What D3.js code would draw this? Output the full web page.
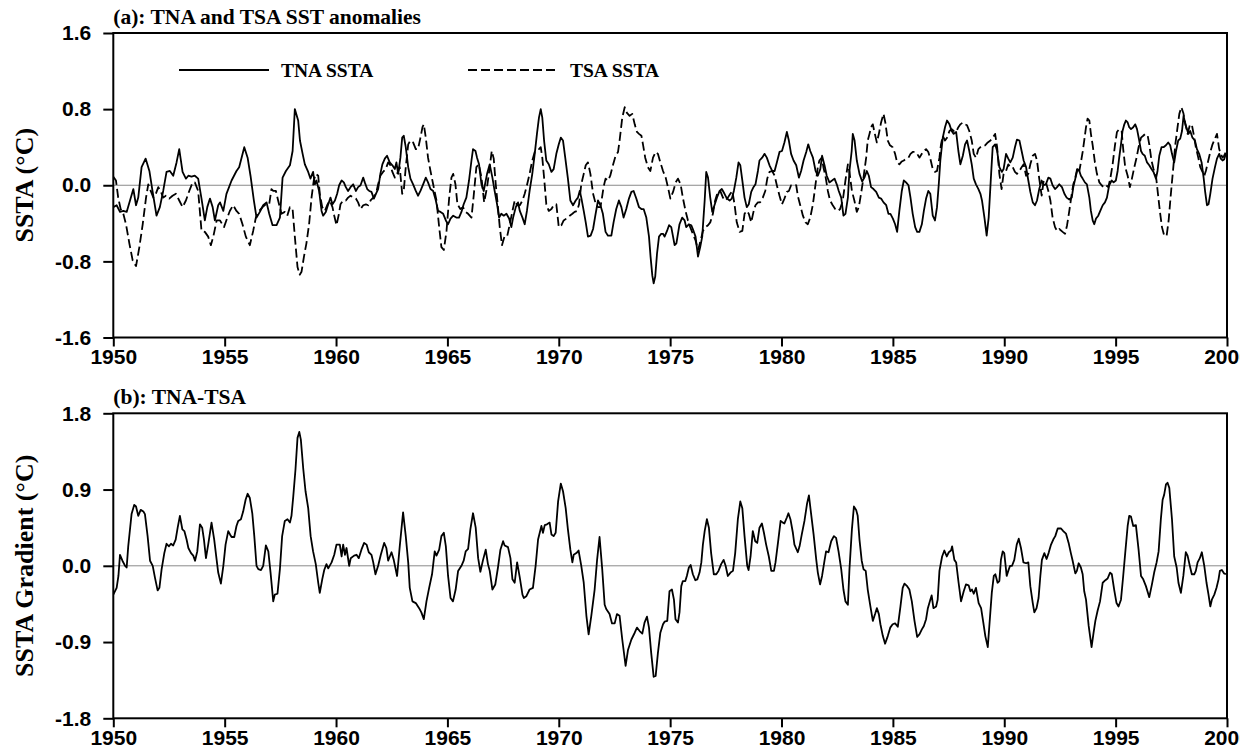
<!DOCTYPE html>
<html>
<head>
<meta charset="utf-8">
<script src="https://cdn.jsdelivr.net/npm/d3@7"></script>
<style>
  html, body { margin: 0; padding: 0; background: #fff; }
  svg { display: block; }
</style>
</head>
<body>
<svg id="chart" width="1250" height="754"></svg>
<script>
// Axis ticks
const yearTicks = [1950, 1955, 1960, 1965, 1970, 1975, 1980, 1985, 1990, 1995, 2000];
const sstaTicks = [-1.6, -0.8, 0.0, 0.8, 1.6];
const gradientTicks = [-1.8, -0.9, 0.0, 0.9, 1.8];

// Tropical North Atlantic SST anomaly, [year, °C]
const tnaSsta = [[1950.00,-0.23],[1950.15,-0.21],[1950.30,-0.28],[1950.45,-0.27],[1950.60,-0.28],[1950.75,-0.16],[1950.90,-0.04],[1951.02,-0.21],[1951.12,-0.13],[1951.27,0.19],[1951.45,0.28],[1951.62,0.15],[1951.76,-0.06],[1951.94,-0.32],[1952.09,-0.23],[1952.24,-0.06],[1952.39,0.14],[1952.54,0.15],[1952.69,0.10],[1952.84,0.24],[1952.96,0.38],[1953.11,0.14],[1953.26,0.07],[1953.37,0.10],[1953.51,0.09],[1953.66,0.10],[1953.81,0.07],[1953.96,-0.14],[1954.11,-0.37],[1954.22,-0.23],[1954.34,-0.14],[1954.46,-0.23],[1954.56,-0.37],[1954.71,-0.21],[1954.79,-0.18],[1954.94,-0.27],[1955.08,-0.09],[1955.31,0.05],[1955.53,0.15],[1955.65,0.19],[1955.76,0.29],[1955.88,0.40],[1956.03,0.29],[1956.16,0.10],[1956.31,-0.16],[1956.43,-0.34],[1956.58,-0.28],[1956.73,-0.21],[1956.88,-0.18],[1957.00,-0.30],[1957.15,-0.42],[1957.33,-0.42],[1957.48,-0.34],[1957.60,0.08],[1957.75,0.15],[1957.93,0.21],[1958.05,0.36],[1958.15,0.80],[1958.30,0.68],[1958.38,0.47],[1958.50,0.33],[1958.60,0.22],[1958.75,0.14],[1958.85,0.07],[1958.97,0.14],[1959.05,0.01],[1959.12,0.05],[1959.24,-0.06],[1959.35,-0.27],[1959.42,-0.32],[1959.54,-0.28],[1959.65,-0.20],[1959.75,-0.13],[1959.84,-0.20],[1959.95,-0.16],[1960.05,-0.09],[1960.14,0.00],[1960.25,0.05],[1960.35,0.03],[1960.44,-0.02],[1960.54,-0.06],[1960.65,-0.02],[1960.77,0.01],[1960.89,-0.06],[1960.99,-0.02],[1961.10,0.00],[1961.22,0.08],[1961.29,0.03],[1961.40,-0.04],[1961.49,-0.06],[1961.59,-0.07],[1961.70,-0.14],[1961.79,-0.09],[1961.89,-0.04],[1961.99,0.12],[1962.08,0.22],[1962.19,0.28],[1962.29,0.31],[1962.41,0.24],[1962.53,0.21],[1962.64,0.17],[1962.71,0.24],[1962.79,0.12],[1962.89,0.29],[1962.97,0.50],[1963.04,0.52],[1963.13,0.40],[1963.24,0.19],[1963.34,0.07],[1963.46,0.01],[1963.58,-0.06],[1963.68,-0.11],[1963.79,-0.06],[1963.91,0.01],[1964.03,0.08],[1964.13,0.03],[1964.24,-0.04],[1964.36,-0.06],[1964.48,-0.16],[1964.58,-0.27],[1964.69,-0.28],[1964.81,-0.30],[1964.93,-0.37],[1965.03,-0.41],[1965.14,-0.35],[1965.26,-0.32],[1965.40,-0.34],[1965.52,-0.34],[1965.63,-0.28],[1965.73,-0.20],[1965.85,-0.13],[1965.97,0.05],[1966.08,0.26],[1966.15,0.38],[1966.26,0.36],[1966.33,0.29],[1966.42,0.22],[1966.53,0.01],[1966.63,-0.06],[1966.78,0.12],[1966.90,0.22],[1967.02,0.08],[1967.12,-0.06],[1967.23,-0.20],[1967.32,-0.34],[1967.42,-0.30],[1967.53,-0.32],[1967.65,-0.30],[1967.77,-0.35],[1967.87,-0.44],[1967.95,-0.34],[1968.07,-0.23],[1968.17,-0.18],[1968.25,-0.27],[1968.37,-0.34],[1968.47,-0.41],[1968.57,-0.27],[1968.69,-0.06],[1968.81,0.12],[1968.92,0.33],[1969.02,0.54],[1969.11,0.71],[1969.19,0.80],[1969.26,0.71],[1969.34,0.47],[1969.44,0.26],[1969.55,0.22],[1969.67,0.14],[1969.77,0.17],[1969.89,0.33],[1970.00,0.43],[1970.09,0.50],[1970.19,0.47],[1970.29,0.29],[1970.41,0.07],[1970.52,-0.16],[1970.64,-0.21],[1970.76,-0.16],[1970.86,-0.13],[1970.94,-0.06],[1971.01,-0.13],[1971.12,-0.27],[1971.21,-0.39],[1971.31,-0.54],[1971.43,-0.53],[1971.54,-0.46],[1971.64,-0.32],[1971.76,-0.16],[1971.87,-0.21],[1971.98,-0.30],[1972.10,-0.49],[1972.21,-0.53],[1972.36,-0.53],[1972.46,-0.39],[1972.58,-0.25],[1972.70,-0.16],[1972.81,-0.23],[1972.91,-0.34],[1973.03,-0.25],[1973.15,-0.14],[1973.26,-0.07],[1973.36,-0.06],[1973.48,-0.14],[1973.60,-0.23],[1973.71,-0.25],[1973.81,-0.25],[1973.93,-0.34],[1974.05,-0.54],[1974.12,-0.75],[1974.20,-0.95],[1974.26,-1.03],[1974.33,-0.96],[1974.41,-0.72],[1974.50,-0.54],[1974.60,-0.51],[1974.68,-0.51],[1974.75,-0.54],[1974.86,-0.48],[1974.95,-0.42],[1975.05,-0.44],[1975.13,-0.54],[1975.20,-0.63],[1975.28,-0.61],[1975.35,-0.51],[1975.42,-0.41],[1975.54,-0.34],[1975.65,-0.37],[1975.72,-0.44],[1975.84,-0.41],[1975.95,-0.42],[1976.05,-0.48],[1976.14,-0.54],[1976.25,-0.75],[1976.35,-0.65],[1976.44,-0.54],[1976.55,-0.16],[1976.62,0.14],[1976.70,0.08],[1976.80,-0.13],[1976.89,-0.28],[1976.99,-0.21],[1977.10,-0.13],[1977.22,-0.06],[1977.32,-0.04],[1977.44,-0.09],[1977.55,-0.14],[1977.67,-0.16],[1977.77,-0.14],[1977.86,-0.06],[1977.97,0.08],[1978.07,0.24],[1978.15,0.21],[1978.24,0.05],[1978.34,-0.13],[1978.44,-0.23],[1978.53,-0.20],[1978.64,-0.07],[1978.74,-0.02],[1978.83,0.01],[1978.94,0.15],[1979.01,0.26],[1979.13,0.29],[1979.24,0.33],[1979.34,0.29],[1979.46,0.21],[1979.58,0.15],[1979.69,0.15],[1979.79,0.24],[1979.91,0.35],[1980.02,0.36],[1980.13,0.45],[1980.24,0.56],[1980.33,0.47],[1980.43,0.33],[1980.54,0.26],[1980.66,0.21],[1980.78,0.08],[1980.88,0.15],[1980.99,0.26],[1981.11,0.35],[1981.20,0.43],[1981.29,0.36],[1981.41,0.29],[1981.53,0.15],[1981.63,0.10],[1981.74,0.17],[1981.82,0.31],[1981.93,0.21],[1982.03,0.10],[1982.15,0.03],[1982.27,0.05],[1982.38,0.07],[1982.48,0.01],[1982.57,-0.06],[1982.68,-0.13],[1982.78,-0.32],[1982.87,-0.30],[1982.98,-0.13],[1983.05,0.15],[1983.15,0.36],[1983.20,0.54],[1983.28,0.47],[1983.38,0.26],[1983.50,0.12],[1983.62,0.04],[1983.72,0.08],[1983.83,0.15],[1983.92,0.10],[1984.02,-0.02],[1984.13,-0.04],[1984.25,-0.07],[1984.37,-0.13],[1984.47,-0.14],[1984.58,-0.18],[1984.70,-0.21],[1984.80,-0.30],[1984.89,-0.30],[1985.00,-0.35],[1985.10,-0.41],[1985.19,-0.49],[1985.29,-0.27],[1985.40,-0.06],[1985.49,0.05],[1985.59,0.03],[1985.70,0.00],[1985.79,-0.13],[1985.89,-0.30],[1986.00,-0.44],[1986.09,-0.49],[1986.19,-0.49],[1986.30,-0.41],[1986.39,-0.27],[1986.49,-0.14],[1986.59,-0.06],[1986.68,-0.09],[1986.79,-0.32],[1986.89,-0.37],[1986.98,-0.23],[1987.06,0.01],[1987.13,0.26],[1987.24,0.50],[1987.34,0.61],[1987.43,0.68],[1987.54,0.64],[1987.64,0.57],[1987.73,0.54],[1987.84,0.56],[1987.94,0.36],[1988.03,0.22],[1988.14,0.31],[1988.24,0.43],[1988.33,0.47],[1988.43,0.36],[1988.54,0.22],[1988.63,0.07],[1988.73,0.01],[1988.84,-0.04],[1988.93,-0.09],[1989.00,-0.16],[1989.11,-0.34],[1989.21,-0.53],[1989.30,-0.34],[1989.41,0.12],[1989.48,0.40],[1989.59,0.43],[1989.68,0.36],[1989.78,0.19],[1989.89,0.14],[1989.97,0.17],[1990.08,0.33],[1990.18,0.28],[1990.27,0.24],[1990.38,0.29],[1990.48,0.40],[1990.57,0.48],[1990.68,0.47],[1990.78,0.36],[1990.87,0.26],[1990.98,0.19],[1991.08,0.05],[1991.17,-0.07],[1991.28,-0.18],[1991.38,-0.21],[1991.47,-0.16],[1991.57,-0.04],[1991.68,0.05],[1991.77,0.00],[1991.87,0.01],[1991.98,0.08],[1992.07,0.07],[1992.17,0.00],[1992.28,-0.04],[1992.37,-0.02],[1992.47,0.01],[1992.59,-0.02],[1992.70,-0.09],[1992.80,-0.13],[1992.92,-0.15],[1993.03,-0.13],[1993.10,-0.02],[1993.19,0.07],[1993.29,0.17],[1993.37,0.15],[1993.44,0.10],[1993.52,0.07],[1993.62,0.03],[1993.71,0.01],[1993.82,-0.13],[1993.89,-0.27],[1993.97,-0.37],[1994.04,-0.41],[1994.12,-0.35],[1994.22,-0.32],[1994.31,-0.27],[1994.42,-0.21],[1994.52,-0.18],[1994.61,-0.13],[1994.71,0.00],[1994.82,0.05],[1994.91,0.03],[1995.01,0.05],[1995.09,0.15],[1995.16,0.29],[1995.24,0.43],[1995.31,0.57],[1995.39,0.64],[1995.46,0.68],[1995.54,0.66],[1995.61,0.61],[1995.69,0.59],[1995.79,0.61],[1995.88,0.64],[1995.96,0.59],[1996.06,0.47],[1996.14,0.36],[1996.21,0.33],[1996.31,0.31],[1996.41,0.24],[1996.51,0.21],[1996.61,0.17],[1996.70,0.14],[1996.81,0.07],[1996.88,0.15],[1996.96,0.31],[1997.06,0.40],[1997.15,0.40],[1997.26,0.42],[1997.36,0.45],[1997.45,0.42],[1997.53,0.33],[1997.63,0.24],[1997.71,0.36],[1997.81,0.47],[1997.90,0.49],[1997.98,0.57],[1998.05,0.73],[1998.13,0.64],[1998.20,0.59],[1998.27,0.54],[1998.35,0.57],[1998.45,0.50],[1998.56,0.47],[1998.65,0.38],[1998.75,0.33],[1998.86,0.24],[1998.95,0.08],[1999.02,-0.07],[1999.10,-0.21],[1999.17,-0.20],[1999.25,-0.09],[1999.35,0.07],[1999.46,0.19],[1999.55,0.28],[1999.65,0.33],[1999.72,0.28],[1999.80,0.26],[1999.87,0.27],[1999.95,0.33]];

// Tropical South Atlantic SST anomaly, [year, °C]
const tsaSsta = [[1950.00,0.09],[1950.12,0.05],[1950.22,-0.13],[1950.33,-0.25],[1950.45,-0.30],[1950.57,-0.41],[1950.72,-0.61],[1950.87,-0.79],[1951.02,-0.85],[1951.17,-0.65],[1951.32,-0.41],[1951.47,-0.13],[1951.57,0.01],[1951.68,-0.06],[1951.80,-0.13],[1951.91,-0.09],[1952.02,-0.02],[1952.12,-0.06],[1952.24,-0.13],[1952.36,-0.11],[1952.51,-0.14],[1952.66,-0.11],[1952.81,-0.09],[1952.96,-0.16],[1953.11,-0.23],[1953.26,-0.16],[1953.41,-0.06],[1953.56,0.03],[1953.66,0.03],[1953.81,-0.06],[1953.96,-0.48],[1954.11,-0.49],[1954.26,-0.54],[1954.38,-0.63],[1954.49,-0.54],[1954.64,-0.37],[1954.79,-0.37],[1954.97,-0.44],[1955.12,-0.34],[1955.23,-0.27],[1955.38,-0.21],[1955.53,-0.27],[1955.65,-0.30],[1955.80,-0.41],[1955.95,-0.54],[1956.13,-0.63],[1956.28,-0.48],[1956.40,-0.34],[1956.55,-0.27],[1956.70,-0.23],[1956.85,-0.20],[1957.00,-0.20],[1957.10,-0.04],[1957.18,-0.06],[1957.30,-0.06],[1957.40,-0.16],[1957.55,-0.30],[1957.70,-0.28],[1957.81,-0.32],[1957.93,-0.23],[1958.05,-0.25],[1958.15,-0.54],[1958.27,-0.86],[1958.37,-0.94],[1958.45,-0.91],[1958.56,-0.75],[1958.67,-0.61],[1958.79,-0.41],[1958.90,-0.13],[1959.00,0.05],[1959.09,0.12],[1959.20,0.10],[1959.27,-0.09],[1959.38,-0.23],[1959.50,-0.27],[1959.60,-0.21],[1959.72,-0.16],[1959.84,-0.23],[1959.92,-0.32],[1960.02,-0.42],[1960.13,-0.30],[1960.20,-0.20],[1960.32,-0.16],[1960.44,-0.16],[1960.54,-0.13],[1960.65,-0.11],[1960.77,-0.13],[1960.89,-0.14],[1960.99,-0.18],[1961.10,-0.25],[1961.22,-0.21],[1961.34,-0.20],[1961.44,-0.21],[1961.55,-0.16],[1961.67,-0.13],[1961.79,-0.09],[1961.89,0.01],[1961.99,0.10],[1962.11,0.14],[1962.23,0.17],[1962.34,0.24],[1962.44,0.21],[1962.53,0.14],[1962.64,0.08],[1962.74,0.12],[1962.86,0.19],[1962.97,-0.09],[1963.04,-0.06],[1963.13,0.19],[1963.24,0.43],[1963.34,0.47],[1963.46,0.45],[1963.58,0.38],[1963.68,0.38],[1963.79,0.50],[1963.88,0.61],[1963.94,0.64],[1964.03,0.50],[1964.13,0.29],[1964.24,0.15],[1964.36,0.01],[1964.51,-0.16],[1964.63,-0.44],[1964.73,-0.65],[1964.84,-0.68],[1964.96,-0.48],[1965.08,-0.13],[1965.18,0.08],[1965.26,0.12],[1965.36,0.01],[1965.45,-0.20],[1965.58,-0.25],[1965.70,-0.23],[1965.82,-0.28],[1965.93,-0.30],[1966.08,-0.34],[1966.18,-0.11],[1966.30,0.19],[1966.41,0.22],[1966.53,0.08],[1966.65,-0.18],[1966.78,-0.02],[1966.90,0.19],[1966.99,0.36],[1967.08,0.28],[1967.17,0.01],[1967.27,-0.23],[1967.35,-0.44],[1967.45,-0.63],[1967.56,-0.54],[1967.68,-0.54],[1967.80,-0.41],[1967.92,-0.27],[1968.02,-0.16],[1968.13,-0.21],[1968.25,-0.21],[1968.37,-0.16],[1968.47,-0.09],[1968.57,0.00],[1968.69,0.12],[1968.81,0.26],[1968.92,0.35],[1969.02,0.36],[1969.11,0.38],[1969.19,0.40],[1969.26,0.29],[1969.34,0.08],[1969.44,-0.20],[1969.55,-0.27],[1969.67,-0.25],[1969.77,-0.21],[1969.89,-0.20],[1970.00,-0.44],[1970.12,-0.42],[1970.22,-0.37],[1970.34,-0.35],[1970.49,-0.32],[1970.61,-0.30],[1970.71,-0.28],[1970.82,-0.27],[1970.91,-0.20],[1971.01,0.01],[1971.12,0.12],[1971.21,0.21],[1971.31,0.24],[1971.42,0.12],[1971.54,-0.09],[1971.64,-0.18],[1971.76,-0.23],[1971.87,-0.23],[1971.94,-0.13],[1972.01,-0.02],[1972.10,0.07],[1972.21,0.05],[1972.31,0.10],[1972.43,0.21],[1972.55,0.31],[1972.66,0.35],[1972.73,0.47],[1972.85,0.71],[1972.96,0.82],[1973.06,0.76],[1973.18,0.73],[1973.30,0.75],[1973.41,0.64],[1973.51,0.56],[1973.60,0.54],[1973.71,0.52],[1973.78,0.43],[1973.88,0.29],[1974.00,0.19],[1974.11,0.15],[1974.23,0.29],[1974.35,0.35],[1974.45,0.33],[1974.56,0.24],[1974.68,0.15],[1974.80,0.08],[1974.90,-0.02],[1975.01,-0.14],[1975.13,-0.07],[1975.25,0.03],[1975.35,0.07],[1975.47,0.01],[1975.57,-0.13],[1975.69,-0.27],[1975.80,-0.37],[1975.90,-0.44],[1976.02,-0.51],[1976.14,-0.58],[1976.25,-0.68],[1976.35,-0.60],[1976.47,-0.48],[1976.59,-0.44],[1976.70,-0.42],[1976.80,-0.39],[1976.92,-0.30],[1977.02,-0.16],[1977.14,-0.07],[1977.25,-0.06],[1977.37,-0.13],[1977.49,-0.16],[1977.59,-0.13],[1977.70,-0.09],[1977.79,-0.06],[1977.89,-0.20],[1977.99,-0.39],[1978.12,-0.49],[1978.24,-0.48],[1978.34,-0.30],[1978.44,-0.27],[1978.53,-0.30],[1978.64,-0.39],[1978.74,-0.28],[1978.83,-0.21],[1978.94,-0.18],[1979.04,-0.18],[1979.16,-0.13],[1979.27,-0.06],[1979.36,0.07],[1979.46,0.14],[1979.58,0.15],[1979.69,0.10],[1979.79,0.00],[1979.91,-0.11],[1980.02,-0.20],[1980.13,-0.14],[1980.24,-0.07],[1980.33,-0.06],[1980.43,0.00],[1980.54,0.01],[1980.66,0.00],[1980.73,-0.11],[1980.84,-0.21],[1980.96,-0.32],[1981.08,-0.39],[1981.18,-0.41],[1981.29,-0.34],[1981.41,-0.20],[1981.51,-0.02],[1981.63,0.19],[1981.70,0.26],[1981.81,0.29],[1981.88,0.19],[1981.97,0.10],[1982.08,-0.06],[1982.18,-0.16],[1982.30,-0.21],[1982.41,-0.25],[1982.53,-0.27],[1982.63,-0.25],[1982.75,-0.16],[1982.87,0.05],[1982.98,0.22],[1983.05,0.14],[1983.16,-0.06],[1983.27,-0.16],[1983.38,-0.28],[1983.47,-0.23],[1983.57,-0.09],[1983.68,0.08],[1983.80,0.29],[1983.87,0.47],[1983.95,0.54],[1984.02,0.61],[1984.10,0.64],[1984.17,0.56],[1984.28,0.45],[1984.37,0.54],[1984.47,0.66],[1984.58,0.75],[1984.66,0.66],[1984.77,0.47],[1984.87,0.42],[1984.99,0.40],[1985.10,0.33],[1985.19,0.24],[1985.29,0.22],[1985.40,0.25],[1985.49,0.26],[1985.59,0.28],[1985.70,0.29],[1985.79,0.33],[1985.89,0.35],[1986.00,0.35],[1986.09,0.33],[1986.19,0.29],[1986.30,0.33],[1986.39,0.36],[1986.49,0.38],[1986.59,0.35],[1986.68,0.28],[1986.79,0.17],[1986.89,0.14],[1986.98,0.15],[1987.09,0.29],[1987.16,0.43],[1987.24,0.52],[1987.34,0.47],[1987.43,0.50],[1987.54,0.57],[1987.64,0.59],[1987.73,0.57],[1987.84,0.56],[1987.94,0.61],[1988.03,0.64],[1988.14,0.66],[1988.24,0.64],[1988.33,0.63],[1988.43,0.57],[1988.54,0.47],[1988.63,0.33],[1988.73,0.29],[1988.84,0.38],[1988.93,0.40],[1989.03,0.42],[1989.14,0.42],[1989.26,0.45],[1989.38,0.47],[1989.48,0.50],[1989.59,0.54],[1989.68,0.40],[1989.78,0.12],[1989.88,-0.04],[1989.97,0.12],[1990.08,0.15],[1990.18,0.22],[1990.27,0.19],[1990.38,0.19],[1990.48,0.14],[1990.57,0.12],[1990.68,0.15],[1990.78,0.19],[1990.87,0.22],[1990.98,0.10],[1991.08,0.12],[1991.17,0.22],[1991.28,0.31],[1991.38,0.33],[1991.47,0.26],[1991.57,0.07],[1991.68,-0.11],[1991.77,0.05],[1991.87,0.03],[1991.98,-0.06],[1992.07,-0.16],[1992.17,-0.34],[1992.28,-0.44],[1992.37,-0.48],[1992.47,-0.46],[1992.62,-0.49],[1992.73,-0.51],[1992.82,-0.42],[1992.92,-0.27],[1993.03,-0.09],[1993.10,0.01],[1993.19,0.08],[1993.29,0.19],[1993.37,0.15],[1993.44,0.24],[1993.52,0.35],[1993.59,0.47],[1993.67,0.61],[1993.74,0.70],[1993.82,0.68],[1993.89,0.54],[1993.97,0.42],[1994.07,0.24],[1994.16,0.12],[1994.27,0.03],[1994.37,0.00],[1994.46,-0.02],[1994.57,0.00],[1994.67,-0.02],[1994.76,0.07],[1994.86,0.21],[1994.97,0.42],[1995.06,0.56],[1995.16,0.59],[1995.27,0.57],[1995.34,0.38],[1995.43,0.19],[1995.54,0.10],[1995.64,-0.02],[1995.73,0.07],[1995.84,0.19],[1995.94,0.29],[1996.03,0.40],[1996.14,0.50],[1996.24,0.52],[1996.33,0.54],[1996.44,0.52],[1996.51,0.43],[1996.61,0.26],[1996.70,0.17],[1996.81,0.10],[1996.90,-0.09],[1996.99,-0.28],[1997.08,-0.44],[1997.18,-0.53],[1997.29,-0.53],[1997.38,-0.37],[1997.48,-0.09],[1997.59,0.19],[1997.68,0.43],[1997.78,0.61],[1997.86,0.75],[1997.95,0.82],[1998.04,0.76],[1998.12,0.66],[1998.23,0.54],[1998.33,0.63],[1998.42,0.64],[1998.50,0.54],[1998.60,0.40],[1998.71,0.29],[1998.80,0.19],[1998.90,0.14],[1998.98,0.10],[1999.05,0.15],[1999.16,0.26],[1999.25,0.35],[1999.35,0.43],[1999.46,0.49],[1999.55,0.54],[1999.65,0.38],[1999.72,0.33],[1999.80,0.29],[1999.87,0.31],[1999.95,0.35]];

// Meridional gradient TNA minus TSA, [year, °C]
const tnaTsaGradient = [[1950.00,-0.34],[1950.15,-0.26],[1950.23,-0.12],[1950.30,0.13],[1950.41,0.06],[1950.53,0.00],[1950.60,-0.02],[1950.67,0.23],[1950.82,0.61],[1950.94,0.72],[1951.02,0.70],[1951.12,0.59],[1951.23,0.66],[1951.35,0.64],[1951.42,0.61],[1951.54,0.35],[1951.65,0.06],[1951.77,0.00],[1951.87,-0.14],[1951.99,-0.29],[1952.07,-0.26],[1952.17,-0.04],[1952.29,0.15],[1952.39,0.26],[1952.50,0.23],[1952.59,0.26],[1952.69,0.24],[1952.80,0.31],[1952.89,0.45],[1952.99,0.59],[1953.10,0.43],[1953.19,0.41],[1953.29,0.31],[1953.37,0.21],[1953.49,0.15],[1953.59,0.12],[1953.67,0.06],[1953.77,0.17],[1953.89,0.49],[1953.99,0.45],[1954.07,0.31],[1954.16,0.09],[1954.26,0.25],[1954.41,0.51],[1954.53,0.31],[1954.64,0.07],[1954.71,-0.08],[1954.83,-0.21],[1954.94,0.00],[1955.04,0.25],[1955.16,0.41],[1955.24,0.37],[1955.31,0.34],[1955.43,0.34],[1955.53,0.47],[1955.61,0.53],[1955.73,0.55],[1955.83,0.64],[1955.94,0.78],[1956.03,0.85],[1956.13,0.80],[1956.24,0.62],[1956.33,0.35],[1956.43,0.00],[1956.51,-0.04],[1956.63,-0.05],[1956.73,0.00],[1956.85,0.24],[1956.96,0.17],[1957.06,-0.08],[1957.18,-0.42],[1957.25,-0.34],[1957.37,-0.33],[1957.48,-0.04],[1957.58,0.35],[1957.70,0.53],[1957.82,0.55],[1957.93,0.51],[1958.00,0.59],[1958.08,0.82],[1958.18,1.14],[1958.27,1.51],[1958.35,1.58],[1958.42,1.49],[1958.53,1.14],[1958.63,0.88],[1958.75,0.68],[1958.86,0.35],[1958.97,0.17],[1959.09,0.02],[1959.20,-0.20],[1959.27,-0.32],[1959.38,-0.16],[1959.47,-0.05],[1959.57,0.02],[1959.65,-0.03],[1959.80,0.04],[1959.92,0.13],[1960.02,0.25],[1960.17,0.25],[1960.25,0.11],[1960.32,0.25],[1960.40,0.13],[1960.47,0.21],[1960.59,0.00],[1960.66,0.09],[1960.81,0.12],[1960.92,0.13],[1961.02,0.09],[1961.14,0.19],[1961.26,0.27],[1961.37,0.25],[1961.47,0.16],[1961.59,0.13],[1961.67,0.04],[1961.77,-0.10],[1961.89,0.00],[1962.01,0.13],[1962.16,0.27],[1962.26,0.21],[1962.34,0.06],[1962.49,0.16],[1962.59,0.07],[1962.74,-0.12],[1962.86,0.23],[1963.01,0.63],[1963.13,0.35],[1963.24,0.04],[1963.31,-0.26],[1963.43,-0.42],[1963.58,-0.44],[1963.73,-0.50],[1963.83,-0.55],[1963.94,-0.63],[1964.06,-0.42],[1964.18,-0.26],[1964.31,-0.10],[1964.43,0.17],[1964.51,0.12],[1964.63,0.19],[1964.73,0.35],[1964.84,0.39],[1964.93,0.23],[1965.03,-0.12],[1965.14,-0.38],[1965.25,-0.42],[1965.37,-0.28],[1965.48,-0.06],[1965.63,0.00],[1965.73,0.06],[1965.82,0.17],[1965.93,0.20],[1966.03,0.43],[1966.15,0.62],[1966.27,0.45],[1966.38,0.09],[1966.48,-0.07],[1966.60,0.07],[1966.72,0.19],[1966.82,0.02],[1966.90,-0.06],[1967.02,-0.28],[1967.15,-0.22],[1967.27,-0.02],[1967.38,0.19],[1967.50,0.29],[1967.57,0.24],[1967.72,0.22],[1967.83,0.09],[1967.92,-0.16],[1968.02,-0.20],[1968.13,0.04],[1968.25,-0.14],[1968.37,-0.34],[1968.43,-0.38],[1968.54,-0.36],[1968.69,-0.28],[1968.84,-0.26],[1968.96,0.00],[1969.07,0.31],[1969.22,0.47],[1969.29,0.39],[1969.37,0.48],[1969.47,0.49],[1969.59,0.51],[1969.67,0.37],[1969.77,0.35],[1969.86,0.39],[1969.97,0.76],[1970.09,0.97],[1970.19,0.88],[1970.31,0.68],[1970.41,0.43],[1970.52,0.19],[1970.61,0.04],[1970.67,0.13],[1970.79,0.15],[1970.89,0.18],[1971.01,0.00],[1971.12,-0.20],[1971.24,-0.59],[1971.34,-0.81],[1971.46,-0.59],[1971.61,-0.28],[1971.72,0.07],[1971.83,0.34],[1971.95,-0.04],[1972.06,-0.46],[1972.13,-0.51],[1972.28,-0.57],[1972.39,-0.68],[1972.51,-0.68],[1972.61,-0.57],[1972.73,-0.59],[1972.85,-0.87],[1973.00,-1.18],[1973.11,-0.99],[1973.26,-0.87],[1973.41,-0.79],[1973.51,-0.73],[1973.63,-0.77],[1973.75,-0.80],[1973.85,-0.67],[1973.96,-0.60],[1974.05,-0.73],[1974.15,-1.03],[1974.26,-1.31],[1974.35,-1.30],[1974.45,-1.03],[1974.56,-0.79],[1974.68,-0.69],[1974.75,-0.66],[1974.87,-0.65],[1974.97,-0.30],[1975.08,-0.28],[1975.17,-0.40],[1975.24,-0.63],[1975.35,-0.67],[1975.42,-0.55],[1975.50,-0.24],[1975.57,-0.18],[1975.68,-0.18],[1975.75,-0.12],[1975.84,-0.02],[1975.92,0.01],[1976.02,-0.10],[1976.13,-0.17],[1976.22,-0.16],[1976.32,-0.08],[1976.40,0.04],[1976.47,0.25],[1976.55,0.41],[1976.65,0.55],[1976.74,0.45],[1976.84,0.15],[1976.96,-0.10],[1977.07,-0.10],[1977.17,-0.06],[1977.29,0.02],[1977.40,0.07],[1977.49,0.00],[1977.59,-0.12],[1977.71,-0.08],[1977.82,-0.06],[1977.92,0.15],[1978.04,0.55],[1978.15,0.76],[1978.24,0.68],[1978.34,0.35],[1978.46,0.00],[1978.52,-0.05],[1978.61,0.11],[1978.71,0.41],[1978.82,0.29],[1978.91,0.27],[1979.01,0.45],[1979.12,0.50],[1979.21,0.39],[1979.31,0.25],[1979.43,0.11],[1979.54,-0.06],[1979.66,-0.06],[1979.73,0.04],[1979.84,0.27],[1979.96,0.53],[1980.06,0.51],[1980.13,0.50],[1980.24,0.57],[1980.31,0.62],[1980.40,0.55],[1980.51,0.39],[1980.58,0.25],[1980.73,0.16],[1980.81,0.23],[1980.91,0.37],[1981.03,0.53],[1981.15,0.74],[1981.23,0.83],[1981.33,0.61],[1981.44,0.37],[1981.56,0.07],[1981.63,-0.08],[1981.73,-0.22],[1981.82,-0.12],[1981.93,0.06],[1982.00,0.17],[1982.11,0.16],[1982.23,0.29],[1982.35,0.35],[1982.45,0.33],[1982.56,0.17],[1982.68,-0.04],[1982.78,-0.28],[1982.87,-0.42],[1982.98,-0.46],[1983.05,-0.04],[1983.16,0.43],[1983.25,0.70],[1983.35,0.66],[1983.42,0.59],[1983.50,0.31],[1983.60,0.06],[1983.68,-0.04],[1983.78,-0.06],[1983.87,-0.28],[1983.99,-0.48],[1984.10,-0.65],[1984.20,-0.57],[1984.28,-0.50],[1984.37,-0.57],[1984.44,-0.69],[1984.55,-0.83],[1984.65,-0.92],[1984.77,-0.83],[1984.88,-0.73],[1984.99,-0.69],[1985.10,-0.68],[1985.22,-0.72],[1985.34,-0.48],[1985.44,-0.26],[1985.52,-0.21],[1985.64,-0.24],[1985.74,-0.28],[1985.85,-0.42],[1985.97,-0.65],[1986.09,-0.84],[1986.19,-0.81],[1986.30,-0.75],[1986.39,-0.71],[1986.49,-0.63],[1986.57,-0.50],[1986.68,-0.40],[1986.74,-0.35],[1986.82,-0.50],[1986.94,-0.48],[1987.01,-0.40],[1987.09,-0.06],[1987.21,0.11],[1987.31,0.18],[1987.42,0.11],[1987.51,0.16],[1987.61,0.18],[1987.66,0.23],[1987.76,0.07],[1987.84,0.04],[1987.95,-0.20],[1988.06,-0.42],[1988.18,-0.30],[1988.28,-0.22],[1988.40,-0.23],[1988.48,-0.30],[1988.55,-0.28],[1988.63,-0.33],[1988.73,-0.26],[1988.85,-0.44],[1988.96,-0.50],[1989.06,-0.67],[1989.15,-0.83],[1989.26,-0.96],[1989.33,-0.71],[1989.44,-0.32],[1989.53,-0.12],[1989.60,-0.10],[1989.70,-0.20],[1989.78,-0.18],[1989.85,0.07],[1989.93,0.17],[1990.00,0.15],[1990.11,-0.12],[1990.18,-0.06],[1990.26,0.00],[1990.35,0.00],[1990.45,0.07],[1990.56,0.25],[1990.65,0.32],[1990.75,0.21],[1990.86,0.04],[1990.98,0.03],[1991.08,0.04],[1991.17,-0.24],[1991.28,-0.44],[1991.35,-0.55],[1991.45,-0.50],[1991.54,-0.38],[1991.62,-0.12],[1991.69,0.07],[1991.80,0.15],[1991.90,0.08],[1991.99,0.15],[1992.10,0.25],[1992.20,0.31],[1992.29,0.35],[1992.40,0.44],[1992.55,0.44],[1992.65,0.41],[1992.77,0.38],[1992.89,0.27],[1992.99,0.15],[1993.07,0.06],[1993.19,-0.09],[1993.26,-0.06],[1993.34,0.03],[1993.44,-0.02],[1993.52,-0.10],[1993.59,-0.30],[1993.67,-0.40],[1993.79,-0.71],[1993.92,-0.96],[1994.01,-0.79],[1994.09,-0.65],[1994.19,-0.53],[1994.30,-0.42],[1994.42,-0.20],[1994.54,-0.17],[1994.64,-0.15],[1994.75,-0.08],[1994.83,-0.10],[1994.94,-0.29],[1995.04,-0.44],[1995.13,-0.48],[1995.24,-0.40],[1995.34,-0.12],[1995.43,0.15],[1995.54,0.47],[1995.61,0.59],[1995.69,0.58],[1995.79,0.47],[1995.91,0.48],[1996.03,0.19],[1996.14,-0.12],[1996.24,-0.16],[1996.36,-0.24],[1996.51,-0.37],[1996.63,-0.22],[1996.73,-0.08],[1996.84,0.04],[1996.93,0.17],[1997.03,0.55],[1997.11,0.78],[1997.18,0.84],[1997.26,0.96],[1997.33,0.98],[1997.41,0.92],[1997.53,0.55],[1997.63,0.11],[1997.74,-0.02],[1997.82,-0.20],[1997.93,-0.32],[1998.04,-0.12],[1998.15,0.16],[1998.23,0.12],[1998.33,0.00],[1998.42,-0.10],[1998.53,-0.10],[1998.60,-0.06],[1998.68,0.04],[1998.78,0.09],[1998.87,0.16],[1998.98,0.00],[1999.08,-0.20],[1999.17,-0.34],[1999.25,-0.48],[1999.32,-0.40],[1999.43,-0.34],[1999.53,-0.26],[1999.62,-0.16],[1999.68,-0.06],[1999.77,-0.05],[1999.87,-0.09],[1999.95,-0.10]];

// ---- layout ----
const svg = d3.select("#chart");
const plotLeft = 113.3, plotRight = 1227;
const sansBold = "'Liberation Sans', Arial, Helvetica, sans-serif";
const serifBold = "'Liberation Serif', 'Times New Roman', Times, serif";
const dashPattern = "9,4";
const labelCutX = 1240;   // the figure is trimmed just past the last year label

const x = d3.scaleLinear().domain([1950, 2000]).range([plotLeft, plotRight]);

const defs = svg.append("defs");
defs.append("clipPath").attr("id", "clip-labels")
  .append("rect").attr("x", 0).attr("y", 0).attr("width", labelCutX).attr("height", 754);

function drawPanel(cfg) {
  const y = d3.scaleLinear().domain(cfg.domain).range([cfg.bottom, cfg.top]);
  const g = svg.append("g");

  const clipId = "clip-" + cfg.id;
  defs.append("clipPath").attr("id", clipId)
    .append("rect")
    .attr("x", plotLeft).attr("y", cfg.top)
    .attr("width", plotRight - plotLeft).attr("height", cfg.bottom - cfg.top);

  // zero reference line
  g.append("line")
    .attr("x1", plotLeft).attr("x2", plotRight)
    .attr("y1", y(0)).attr("y2", y(0))
    .attr("stroke", "#8a8a8a").attr("stroke-width", 1);

  // series
  const line = d3.line().x(d => x(d[0])).y(d => y(d[1]));
  const series = g.append("g").attr("clip-path", `url(#${clipId})`);
  cfg.series.forEach(s => {
    series.append("path")
      .datum(s.data)
      .attr("d", line)
      .attr("fill", "none")
      .attr("stroke", "#000")
      .attr("stroke-width", 1.8)
      .attr("stroke-linejoin", "round")
      .attr("stroke-dasharray", s.dash || null);
  });

  // axes
  const yAxis = d3.axisLeft(y).tickValues(cfg.ticks).tickSize(10).tickPadding(12)
    .tickFormat(d => d.toFixed(1));
  const xAxis = d3.axisBottom(x).tickValues(yearTicks).tickSize(9).tickPadding(3)
    .tickFormat(d3.format("d"));

  const ga = g.append("g").attr("transform", `translate(${plotLeft},0)`).call(yAxis);
  const gbWrap = g.append("g").attr("clip-path", "url(#clip-labels)");
  const gb = gbWrap.append("g").attr("transform", `translate(0,${cfg.bottom})`).call(xAxis);
  [ga, gb].forEach(a => {
    a.select(".domain").remove();
    a.selectAll(".tick line").attr("stroke", "#000").attr("stroke-width", 2);
    a.selectAll(".tick text")
      .attr("fill", "#000")
      .style("font-family", sansBold)
      .style("font-weight", "bold")
      .style("font-size", "21px");
  });

  // frame
  g.append("rect")
    .attr("x", plotLeft).attr("y", cfg.top)
    .attr("width", plotRight - plotLeft).attr("height", cfg.bottom - cfg.top)
    .attr("fill", "none").attr("stroke", "#000").attr("stroke-width", 2);

  // panel title
  g.append("text")
    .attr("x", plotLeft).attr("y", cfg.top - 9)
    .style("font-family", serifBold).style("font-weight", "bold")
    .style("font-size", "21.5px")
    .text(cfg.title);

  // y-axis title
  g.append("text")
    .attr("transform", `translate(33,${(cfg.top + cfg.bottom) / 2}) rotate(-90)`)
    .attr("text-anchor", "middle")
    .style("font-family", serifBold).style("font-weight", "bold")
    .style("font-size", "26px")
    .text(cfg.yTitle);

  return y;
}

drawPanel({
  id: "a", top: 33, bottom: 337.5, domain: [-1.6, 1.6], ticks: sstaTicks,
  title: "(a): TNA and TSA SST anomalies", yTitle: "SSTA (\u00B0C)",
  series: [
    { data: tnaSsta },
    { data: tsaSsta, dash: dashPattern }
  ]
});

drawPanel({
  id: "b", top: 413.3, bottom: 718.3, domain: [-1.8, 1.8], ticks: gradientTicks,
  title: "(b): TNA-TSA", yTitle: "SSTA Gradient (\u00B0C)",
  series: [ { data: tnaTsaGradient } ]
});

// legend for panel (a)
const legend = svg.append("g");
const legendItems = [
  { label: "TNA SSTA", x0: 179, x1: 269, dash: null },
  { label: "TSA SSTA", x0: 468, x1: 558, dash: dashPattern }
];
legendItems.forEach(it => {
  legend.append("line")
    .attr("x1", it.x0).attr("x2", it.x1).attr("y1", 70).attr("y2", 70)
    .attr("stroke", "#000").attr("stroke-width", 1.8)
    .attr("stroke-dasharray", it.dash);
  legend.append("text")
    .attr("x", it.x1 + 12).attr("y", 77)
    .style("font-family", serifBold).style("font-weight", "bold")
    .style("font-size", "19.5px")
    .text(it.label);
});
</script>
</body>
</html>
